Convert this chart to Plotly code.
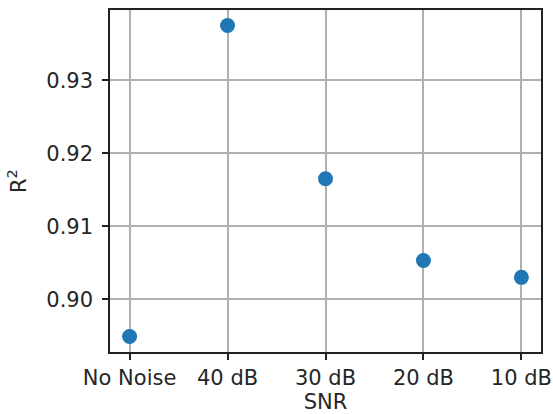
import plotly.graph_objects as go

categories = ["No Noise", "40 dB", "30 dB", "20 dB", "10 dB"]
r2_values = [0.8949, 0.9375, 0.9165, 0.9053, 0.9030]
y_ticks = [0.90, 0.91, 0.92, 0.93]
y_tick_labels = ["0.90", "0.91", "0.92", "0.93"]

x_idx = list(range(len(categories)))

fig = go.Figure()
fig.add_trace(go.Scatter(
    x=x_idx, y=r2_values, mode="markers",
    marker=dict(color="#1f77b4", size=15, line=dict(width=0)),
    showlegend=False,
))

font = dict(family="DejaVu Sans", size=21, color="#262626")

fig.update_layout(
    width=553, height=414,
    margin=dict(l=110, r=12, t=10, b=62, autoexpand=False),
    paper_bgcolor="white", plot_bgcolor="white",
    font=font,
    xaxis=dict(
        range=[-0.2, 4.2],
        tickmode="array", tickvals=x_idx, ticktext=categories,
        showgrid=True, gridcolor="#b0b0b0", gridwidth=1.5,
        showline=True, linecolor="#222", linewidth=1.5, mirror=True,
        ticks="outside", ticklen=6, tickwidth=1.5, tickcolor="#222",
        zeroline=False, automargin=False,
        title=dict(text="SNR", font=font, standoff=2),
        tickfont=font,
    ),
    yaxis=dict(
        range=[0.89277, 0.93963],
        tickmode="array", tickvals=y_ticks, ticktext=y_tick_labels,
        showgrid=True, gridcolor="#b0b0b0", gridwidth=1.5,
        showline=True, linecolor="#222", linewidth=1.5, mirror=True,
        ticks="outside", ticklen=6, tickwidth=1.5, tickcolor="#222",
        ticklabelstandoff=5,
        zeroline=False, automargin=False,
        title=dict(text="R<sup>2</sup>", font=font, standoff=14),
        tickfont=font,
    ),
)

fig.write_html(
    "out.html",
    config={"displayModeBar": False},
    post_script="document.body.style.margin='0px';document.body.style.overflow='hidden';",
)
